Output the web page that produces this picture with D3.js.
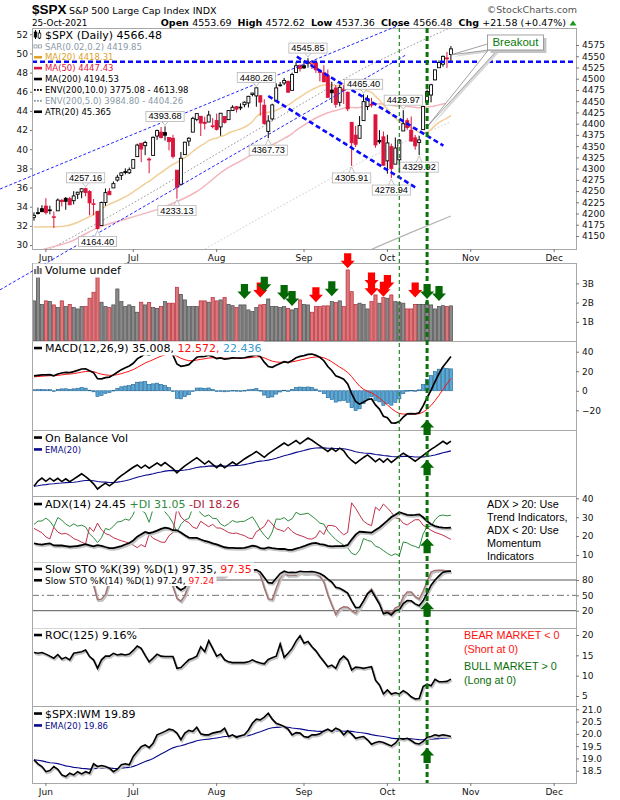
<!DOCTYPE html>
<html>
<head>
<meta charset="utf-8">
<style>
  body { margin: 0; background: #fff; }
  svg { font-family: "DejaVu Sans", Verdana, sans-serif; display: block; }
  text { white-space: pre; }
  .axis text { font-size: 9px; fill: #111; font-family: "DejaVu Sans", Verdana, sans-serif; }
  .axis line { stroke: #777; }
</style>
</head>
<body>
<svg width="620" height="800"></svg>
<script src="https://cdn.jsdelivr.net/npm/d3@7"></script>
<script>
// ---------------- data ----------------
var monthDays = [
  ["2021-05", [26, 27, 28]],
  ["2021-06", [1,2,3,4,7,8,9,10,11,14,15,16,17,18,21,22,23,24,25,28,29,30]],
  ["2021-07", [1,2,6,7,8,9,12,13,14,15,16,19,20,21,22,23,26,27,28,29,30]],
  ["2021-08", [2,3,4,5,6,9,10,11,12,13,16,17,18,19,20,23,24,25,26,27,30,31]],
  ["2021-09", [1,2,3,7,8,9,10,13,14,15,16,17,20,21,22,23,24,27,28,29,30]],
  ["2021-10", [1,4,5,6,7,8,11,12,13,14,15,18,19,20,21,22,25]]
];
var dates = monthDays.flatMap(function(m) { return m[1].map(function(d) { return m[0] + "-" + String(d).padStart(2, "0"); }); });

var opens = [
4191.59,4201.94,4210.77,4216.52,4206.82,4191.43,4206.05,4229.34,4233.81,4232.99,
4228.56,4242.90,4248.31,4255.28,4248.87,4220.37,4204.78,4173.40,4224.61,4249.27,
4256.97,4274.45,4284.90,4293.21,4290.65,4300.73,4326.60,4356.46,4351.01,4321.07,
4329.38,4372.41,4381.07,4380.11,4369.02,4367.43,4296.40,4265.11,4331.13,4361.27,
4381.20,4409.58,4416.38,4402.95,4403.59,4395.12,4406.86,4392.74,4415.95,4408.86,
4429.07,4437.77,4435.79,4442.18,4446.08,4464.84,4461.65,4462.12,4440.94,4382.44,
4410.56,4450.29,4484.40,4490.45,4493.75,4474.10,4513.76,4529.75,4528.80,4534.48,
4532.42,4535.38,4518.09,4513.02,4506.92,4474.81,4479.33,4447.49,4477.09,4469.74,
4402.95,4374.45,4367.43,4406.75,4438.04,4442.12,4419.54,4362.41,4370.67,4317.16,
4348.84,4309.87,4319.57,4383.73,4406.51,4385.44,4368.31,4358.01,4386.75,4447.69,
4463.72,4497.34,4524.42,4532.24,4546.12,4553.69];
var highs = [
4202.61,4213.38,4218.36,4234.12,4217.37,4204.39,4233.45,4232.34,4236.74,4237.09,
4249.74,4248.38,4255.59,4257.16,4251.89,4232.29,4204.78,4226.24,4255.84,4256.60,
4271.28,4286.12,4292.14,4300.52,4302.43,4320.66,4355.43,4356.46,4361.88,4324.81,
4371.60,4386.68,4392.37,4393.68,4369.02,4375.09,4296.40,4336.84,4359.70,4369.87,
4415.18,4422.73,4416.38,4415.47,4428.50,4412.25,4422.18,4423.79,4416.17,4429.76,
4440.82,4439.39,4445.21,4449.44,4461.77,4468.37,4480.26,4462.12,4454.32,4418.61,
4444.35,4489.88,4492.81,4501.71,4495.90,4513.33,4537.36,4531.39,4537.11,4545.85,
4541.45,4535.38,4521.79,4529.90,4520.47,4492.99,4485.68,4486.87,4485.87,4471.52,
4402.95,4394.87,4416.75,4465.40,4463.12,4457.30,4419.54,4385.57,4382.55,4375.19,
4355.51,4369.23,4365.57,4429.97,4412.02,4415.88,4374.89,4372.87,4439.73,4475.82,
4488.75,4520.40,4540.87,4551.44,4559.67,4572.62];
var lows = [
4184.11,4197.78,4203.57,4197.59,4198.27,4167.93,4206.05,4215.66,4208.41,4218.74,
4220.34,4232.25,4234.07,4238.35,4195.99,4196.05,4164.40,4173.40,4217.27,4241.43,
4256.97,4271.16,4274.67,4287.04,4287.96,4300.73,4326.60,4314.37,4329.79,4289.52,
4329.38,4364.03,4366.92,4362.36,4340.70,4322.53,4233.13,4262.05,4331.13,4350.06,
4381.20,4405.45,4372.51,4387.01,4403.59,4389.65,4384.81,4373.00,4400.23,4408.86,
4429.07,4424.74,4430.03,4436.42,4435.96,4460.82,4437.66,4417.83,4397.59,4367.73,
4406.80,4450.29,4482.28,4485.66,4468.99,4474.10,4513.76,4515.80,4522.02,4524.66,
4521.65,4513.00,4493.95,4492.07,4457.66,4445.70,4435.46,4438.37,4443.80,4427.76,
4305.91,4347.96,4367.43,4406.75,4430.27,4436.19,4346.33,4355.08,4306.24,4288.52,
4278.94,4309.87,4290.49,4383.73,4386.22,4360.59,4342.09,4329.92,4386.75,4447.69,
4447.47,4496.41,4524.40,4526.89,4524.00,4537.36];
var closes = [
4195.99,4200.88,4204.11,4202.04,4208.12,4192.85,4229.89,4226.52,4227.26,4219.55,
4239.18,4247.44,4255.15,4246.59,4223.70,4221.86,4166.45,4224.79,4246.44,4241.84,
4266.49,4280.70,4290.61,4291.80,4297.50,4319.94,4352.34,4343.54,4358.13,4320.82,
4369.55,4384.63,4369.21,4374.30,4360.03,4327.16,4258.49,4323.06,4358.69,4367.48,
4411.79,4422.30,4401.46,4400.64,4419.15,4395.26,4387.16,4423.15,4402.66,4429.10,
4436.52,4432.35,4436.75,4447.70,4460.83,4468.00,4479.71,4448.08,4400.27,4405.80,
4441.67,4479.53,4486.23,4496.19,4470.00,4509.37,4528.79,4522.68,4524.09,4536.95,
4535.43,4520.03,4514.07,4493.28,4458.58,4468.73,4443.05,4480.70,4473.75,4432.99,
4357.73,4354.19,4395.64,4448.98,4455.48,4443.11,4352.63,4359.46,4307.54,4357.04,
4300.46,4345.72,4363.55,4399.76,4391.34,4361.19,4350.65,4363.80,4438.26,4471.37,
4486.46,4519.63,4536.19,4549.78,4544.90,4566.48];
// volume in billions
var volumes = [
2.09,3.36,1.91,2.09,2.05,1.88,1.74,2.09,1.79,1.91,
1.74,1.67,1.79,1.79,2.23,2.54,3.36,2.02,1.79,1.74,
1.88,2.71,2.05,1.79,1.88,1.79,1.50,2.02,1.88,2.00,
1.74,1.70,1.79,2.05,1.97,1.97,2.80,2.43,2.14,1.79,
1.79,1.79,2.09,2.09,2.02,2.26,2.09,2.14,2.26,1.91,
1.84,1.74,1.88,1.88,1.62,1.53,1.74,1.88,1.91,2.19,
1.79,1.79,1.74,1.79,1.70,1.62,1.70,2.14,1.91,1.88,
1.50,1.79,1.79,1.83,1.83,2.05,2.00,2.09,1.79,3.70,
2.57,1.91,1.97,1.91,1.67,2.05,2.40,1.97,2.26,2.23,
2.40,2.05,2.02,1.97,1.67,1.67,1.91,1.91,1.91,2.02,
1.88,1.67,1.79,1.84,1.79,1.83];

// bars before the window (for the first close and the stochastic look-back)
var prevBar = {high: 4213.42, low: 4182.52, close: 4188.13};
var priorIdx  = [-38, -37, -13, -12, -10, -5, -1];
var priorHigh = [4020.63, 4083.42, 4238.04, 4236.39, 4134.99, 4116.93, 4213.42];
var priorLow  = [3992.78, 4034.44, 4201.64, 4188.13, 4056.88, 4061.41, 4182.52];

// overlays: [trading day index, value]
var ma20Early = [[0, 4170], [7, 4171], [14, 4193]];
var ma50Early = [[0, 4112], [2, 4119], [9, 4137], [16, 4168], [24, 4190], [32, 4212], [41, 4249]];
var ma200 = [[0, 3729], [7, 3759], [24, 3835], [41, 3915], [58, 3996], [70, 4052], [84, 4116], [95, 4158], [105, 4194.53]];

var roc125 = [
15.7,15.5,15.7,15.3,14.8,14.3,15.2,14.1,14.5,13.9,
15.5,15.7,15.9,16.3,14.7,13.9,11.8,13.9,14.8,14.8,
15.5,15.1,15.3,15.1,15.3,16.2,17.3,16.7,15.0,13.4,
14.3,15.3,14.8,14.7,14.7,14.7,11.8,12.0,13.0,13.9,
14.3,14.8,17.1,15.9,18.6,16.7,14.8,15.3,13.9,13.4,
13.2,13.2,13.2,13.2,13.4,13.9,13.4,13.1,12.9,14.0,
14.4,14.8,17.8,14.5,15.5,16.7,18.5,19.8,18.0,18.4,
17.1,16.1,14.7,13.5,12.2,12.6,11.8,13.9,14.8,13.9,
11.4,12.1,12.0,11.8,12.0,12.2,8.9,7.7,5.5,6.5,
5.5,5.8,5.5,6.3,5.7,4.8,4.3,4.4,7.3,7.9,
7.5,9.1,8.5,8.5,8.6,9.16];
var spxIwm = [
18.94,18.78,18.67,18.46,18.51,18.67,18.56,18.33,18.26,18.40,
18.33,18.46,18.37,18.46,18.40,18.78,18.67,18.71,18.67,18.60,
18.46,18.56,18.74,18.78,18.74,19.08,19.28,19.48,19.55,19.44,
19.62,19.96,20.03,20.10,20.19,20.16,20.03,19.76,20.03,20.14,
20.10,20.27,20.00,19.96,19.96,20.03,20.07,20.10,20.23,19.89,
19.96,19.86,19.92,19.96,20.16,20.43,20.60,20.57,20.68,20.84,
20.60,20.43,20.37,20.30,20.19,19.96,20.05,20.03,19.89,19.86,
19.96,19.96,20.00,20.12,20.19,20.10,20.23,20.16,19.96,20.12,
20.00,19.82,19.86,19.89,19.76,19.58,19.65,19.69,19.65,19.58,
19.51,19.62,19.82,19.78,19.82,19.73,19.62,19.59,19.69,19.86,
19.89,19.96,19.92,19.96,19.93,19.89];

var macdSeed = {ema12: 4178, ema26: 4163, signal: 14};
var adxSeed = {atr: 26, pdi: 26.2, mdi: 24.1, adx: 16.2};
var ratioEmaSeed = 18.94;

var monthLabels = ["Jun", "Jul", "Aug", "Sep", "Oct", "Nov", "Dec"];
var monthStart = [3, 25, 46, 68, 89, 110, 131];

var legendValues = {sar: "4419.85", atr: "45.365", macd: "35.008", signal: "12.572", hist: "22.436",
  adx: "24.45", pdi: "31.05", mdi: "18.26", k39: "97.35", k14: "97.24", ratioEma: "19.86"};

var hiLoLabels = [[13, "high"], [16, "low"], [33, "high"], [36, "low"], [56, "high"], [59, "low"],
  [69, "high"], [80, "low"], [83, "high"], [90, "low"], [93, "high"], [97, "low"]];

// drawn trendlines: [[day, price], [day, price]]
var thinTrends = [[[-8.54, 4254.6], [92.2, 4620]], [[-8.54, 4030.3], [93.5, 4552.1]]];
var thickTrends = [[[66.2, 4549], [103.1, 4351]], [[59.0, 4461.5], [96.0, 4258.4]]];
var resistance = 4537.8;
var signalDay = 99, markDay = 92;

// volume pane arrows: [day, colour, tip level in B]
var volArrows = [[53,"g",2.19],[57,"r",2.26],[58,"g",2.57],[63,"g",2.14],[65,"g",1.82],[71,"r",2.02],
  [75,"g",2.33],[79,"r",3.79],[85,"r",2.36],[85,"r",2.78],[88,"r",2.31],[89,"r",2.66],[96,"r",2.26],
  [99,"g",2.19],[102,"g",2.08]];
var breakout = {text: "Breakout", box: [114.2, 128.3, 4597.3, 4563.9], tips: [[105, 4553], [99, 4393]]};

// ---------------- indicators ----------------
var last = closes.length - 1;
var days = d3.range(closes.length);
function ema(values, n, seed) {
  var k = 2 / (n + 1), e = seed;
  return values.map(function(v) { e += k * (v - e); return e; });
}
function prevClose(i) { return i === 0 ? prevBar.close : closes[i - 1]; }

var ema12 = ema(closes, 12, macdSeed.ema12), ema26 = ema(closes, 26, macdSeed.ema26);
var macd = days.map(function(i) { return ema12[i] - ema26[i]; });
var signal = ema(macd, 9, macdSeed.signal);
var hist = days.map(function(i) { return macd[i] - signal[i]; });

var obv = [];
days.forEach(function(i) { obv.push((i ? obv[i - 1] : 0) + Math.sign(closes[i] - prevClose(i)) * volumes[i]); });
var obvEma = ema(obv, 20, obv[0]);

var pdi = [], mdi = [], adx = [];
(function() {
  var sTR = adxSeed.atr * 14, sP = sTR * adxSeed.pdi / 100, sM = sTR * adxSeed.mdi / 100, a = adxSeed.adx;
  days.forEach(function(i) {
    if (i > 0) {
      var h = highs[i], l = lows[i], pc = closes[i - 1];
      var tr = Math.max(h - l, Math.abs(h - pc), Math.abs(l - pc));
      var up = h - highs[i - 1], dn = lows[i - 1] - l;
      var pdm = up > dn && up > 0 ? up : 0, mdm = dn > up && dn > 0 ? dn : 0;
      sTR += tr - sTR / 14; sP += pdm - sP / 14; sM += mdm - sM / 14;
      var p = 100 * sP / sTR, m = 100 * sM / sTR;
      a = (a * 13 + 100 * Math.abs(p - m) / (p + m)) / 14;
    }
    pdi.push(100 * sP / sTR); mdi.push(100 * sM / sTR); adx.push(a);
  });
})();

function slowK(n) {
  var fast = days.map(function(i) {
    var hh = -Infinity, ll = Infinity;
    for (var j = Math.max(0, i - n + 1); j <= i; j++) { hh = Math.max(hh, highs[j]); ll = Math.min(ll, lows[j]); }
    priorIdx.forEach(function(pj, k) { if (pj >= i - n + 1) { hh = Math.max(hh, priorHigh[k]); ll = Math.min(ll, priorLow[k]); } });
    return 100 * (closes[i] - ll) / (hh - ll);
  });
  return fast.map(function(_, i) { return d3.mean(fast.slice(Math.max(0, i - 2), i + 1)); });
}
var k39 = slowK(39), k14 = slowK(14);
var ratioEma = ema(spxIwm, 20, ratioEmaSeed);

var ma20 = ma20Early.concat(d3.range(19, closes.length).map(function(i) { return [i, d3.mean(closes.slice(i - 19, i + 1))]; }));
var ma50 = ma50Early.concat(d3.range(49, closes.length).map(function(i) { return [i, d3.mean(closes.slice(i - 49, i + 1))]; }));
var env10 = ma200.map(function(d) { return [d[0], d[1] * 1.1]; });
var env5 = ma200.map(function(d) { return [d[0], d[1] * 1.05]; });
var env10lo = ma200.map(function(d) { return [d[0], d[1] * 0.9]; });
var env5lo = ma200.map(function(d) { return [d[0], d[1] * 0.95]; });

// ---------------- layout ----------------
var svg = d3.select("svg");
var L = 32, R = 576;
var x = d3.scaleLinear().domain([-0.5, 136.5]).range([L, R]);
var defs = svg.append("defs");
var layer = {
  panes: svg.append("g"),
  frames: svg.append("g"),
  notes: svg.append("g"),
  legends: svg.append("g"),
  verticals: svg.append("g"),
  arrows: svg.append("g")
};

function pane(name, top, bottom) {
  defs.append("clipPath").attr("id", "clip-" + name)
    .append("rect").attr("x", L).attr("y", top).attr("width", R - L).attr("height", bottom - top);
  layer.frames.append("rect").attr("x", L + 0.5).attr("y", top + 0.5).attr("width", R - L).attr("height", bottom - top)
    .attr("fill", "none").attr("stroke", "#a8a8a8");
  return layer.panes.append("g").attr("clip-path", "url(#clip-" + name + ")");
}

var yP = d3.scaleLinear().domain([4150, 4575]).range([236, 45]);
var yAtr = d3.scaleLinear().domain([30, 52]).range([245, 34.3]);
var yV = d3.scaleLinear().domain([0, 3]).range([341, 283.4]);
var yM = d3.scaleLinear().domain([-20, 40]).range([410.3, 351.7]);
var yO = d3.scaleLinear().domain(d3.extent(obv.concat(obvEma))).range([489, 438]);
var yA = d3.scaleLinear().domain([10, 40]).range([555, 498.3]);
var yS = d3.scaleLinear().domain([20, 80]).range([610.7, 580]);
var yR = d3.scaleLinear().domain([5, 20]).range([696, 635]);
var yQ = d3.scaleLinear().domain([18.5, 21]).range([770.7, 709.3]);

var pPrice = pane("price", 28, 249);
var pVol = pane("vol", 263, 341);
var pMacd = pane("macd", 341, 430);
var pObv = pane("obv", 430, 496);
var pAdx = pane("adx", 496, 562);
var pSto = pane("sto", 562, 628);
var pRoc = pane("roc", 628, 706);
var pRatio = pane("ratio", 706, 783);

function rightAxis(scale, ticks, fmt) {
  var g = layer.frames.append("g").attr("class", "axis").attr("transform", "translate(" + R + ",0)")
    .call(d3.axisRight(scale).tickValues(ticks).tickSize(3).tickPadding(3).tickFormat(fmt));
  g.select(".domain").remove();
}
rightAxis(yP, d3.range(4150, 4576, 25), d3.format("d"));
rightAxis(yV, [1, 2, 3], function(d) { return d + "B"; });
rightAxis(yM, [-20, 0, 20, 40], d3.format("d"));
rightAxis(yA, [10, 20, 30, 40], d3.format("d"));
rightAxis(yS, [20, 50, 80], d3.format("d"));
rightAxis(yR, [5, 10, 15, 20], d3.format("d"));
rightAxis(yQ, [18.5, 19, 19.5, 20, 20.5, 21], d3.format(".1f"));
(function() {
  var g = layer.frames.append("g").attr("class", "axis").attr("transform", "translate(" + L + ",0)")
    .call(d3.axisLeft(yAtr).tickValues(d3.range(30, 53, 2)).tickSize(2).tickPadding(2));
  g.select(".domain").remove();
})();

function monthAxis(yTop, yText) {
  var g = layer.frames.append("g").attr("class", "axis");
  monthStart.forEach(function(m, k) {
    g.append("line").attr("x1", x(m)).attr("x2", x(m)).attr("y1", yTop).attr("y2", yTop + 3);
    g.append("text").attr("x", x(m)).attr("y", yText).attr("text-anchor", "middle").text(monthLabels[k]);
  });
}
monthAxis(249, 261);
monthAxis(783, 795);

// ---------------- header ----------------
svg.append("text").attr("x", 32).attr("y", 14).attr("font-family", "'Liberation Sans', Arial, sans-serif")
  .attr("font-weight", "bold").attr("font-size", 13.5).text("$SPX");
svg.append("text").attr("x", 69).attr("y", 14).attr("font-size", 9.5).text("S&P 500 Large Cap Index INDX");
svg.append("text").attr("x", 32).attr("y", 25.5).attr("font-size", 8.8).text("25-Oct-2021");
svg.append("text").attr("x", 577).attr("y", 12.5).attr("text-anchor", "end").attr("font-size", 9.5)
  .attr("fill", "#555").text("\u00a9StockCharts.com");
(function() {
  var chg = closes[last] - closes[last - 1];
  var parts = [["Open ", 1], [opens[last].toFixed(2) + "  ", 0], ["High ", 1], [highs[last].toFixed(2) + "  ", 0],
    ["Low ", 1], [lows[last].toFixed(2) + "  ", 0], ["Close ", 1], [closes[last].toFixed(2) + "  ", 0],
    ["Chg ", 1], ["+" + chg.toFixed(2) + " (+" + (chg / closes[last - 1] * 100).toFixed(2) + "%)", 0]];
  var t = svg.append("text").attr("x", 566).attr("y", 25.5).attr("text-anchor", "end").attr("font-size", 9.5);
  parts.forEach(function(p) { t.append("tspan").attr("font-weight", p[1] ? "bold" : "normal").text(p[0]); });
  svg.append("path").attr("d", "M569.5,25.5 L576.5,25.5 L573,20.5 Z").attr("fill", "#1a9a1a");
})();

// ---------------- price pane ----------------
function lineOf(sx, sy, curve) {
  var l = d3.line().x(function(d) { return sx(d[0]); }).y(function(d) { return sy(d[1]); });
  return curve ? l.curve(curve) : l;
}
function series(arr) { return arr.map(function(v, i) { return [i, v]; }); }

[[env10lo, "#999"], [env5lo, "#ccc"], [env10, "#9a9a9a"], [env5, "#cfcfcf"]].forEach(function(e) {
  pPrice.append("path").attr("d", lineOf(x, yP, d3.curveMonotoneX)(e[0])).attr("fill", "none")
    .attr("stroke", e[1]).attr("stroke-width", 1).attr("stroke-dasharray", "1.6,2");
});
pPrice.append("path").attr("d", lineOf(x, yP, d3.curveMonotoneX)(ma200)).attr("fill", "none").attr("stroke", "#b4b4b4").attr("stroke-width", 1.2);
pPrice.append("path").attr("d", lineOf(x, yP, d3.curveMonotoneX)(ma50)).attr("fill", "none").attr("stroke", "#f2b6bc").attr("stroke-width", 1.5);
pPrice.append("path").attr("d", lineOf(x, yP, d3.curveMonotoneX)(ma20)).attr("fill", "none").attr("stroke", "#f1cf98").attr("stroke-width", 1.5);

var RED = "#dc143c";
days.forEach(function(i) {
  var col = closes[i] >= prevClose(i) ? "#000" : RED;
  var hollow = closes[i] >= opens[i];
  var cx = x(i);
  pPrice.append("line").attr("x1", cx).attr("x2", cx).attr("y1", yP(highs[i])).attr("y2", yP(lows[i]))
    .attr("stroke", col).attr("stroke-width", 1);
  var top = yP(Math.max(opens[i], closes[i])), bot = yP(Math.min(opens[i], closes[i]));
  pPrice.append("rect").attr("x", cx - 1.5).attr("y", top).attr("width", 3).attr("height", Math.max(0.8, bot - top))
    .attr("fill", hollow ? "#fff" : col).attr("stroke", col).attr("stroke-width", 0.9);
});

// trendlines
thinTrends.forEach(function(t) {
  layer.notes.append("line").attr("x1", x(t[0][0])).attr("y1", yP(t[0][1])).attr("x2", x(t[1][0])).attr("y2", yP(t[1][1]))
    .attr("stroke", "#2626ff").attr("stroke-width", 1).attr("stroke-dasharray", "3,2");
});
thickTrends.forEach(function(t) {
  layer.notes.append("line").attr("x1", x(t[0][0])).attr("y1", yP(t[0][1])).attr("x2", x(t[1][0])).attr("y2", yP(t[1][1]))
    .attr("stroke", "#0a0aff").attr("stroke-width", 2.6).attr("stroke-dasharray", "5,3");
});
pPrice.append("line").attr("x1", L).attr("x2", R).attr("y1", yP(resistance)).attr("y2", yP(resistance))
  .attr("stroke", "#0a0aff").attr("stroke-width", 2.6).attr("stroke-dasharray", "5,3");

// high / low labels
hiLoLabels.forEach(function(lb) {
  var i = lb[0], isHigh = lb[1] === "high";
  var price = isHigh ? highs[i] : lows[i];
  var cx = x(i), py = yP(price), h = 10;
  var g = layer.notes.append("g");
  var t = g.append("text").attr("font-family", "'Liberation Sans', Arial, sans-serif").attr("font-size", 9.2)
    .attr("text-anchor", "middle").text(price.toFixed(2));
  var w = t.node().getComputedTextLength() + 5;
  var by = isHigh ? py - 5 - h : py + 7;
  var edge = isHigh ? by + h : by;
  g.insert("path", "text").attr("d", "M" + (cx - 3) + "," + edge + " L" + cx + "," + (isHigh ? py - 1 : py + 1) + " L" + (cx + 3) + "," + edge)
    .attr("fill", "#fff").attr("stroke", "#b5b5b5").attr("stroke-width", 0.8);
  g.insert("rect", "text").attr("x", cx - w / 2).attr("y", by).attr("width", w).attr("height", h)
    .attr("fill", "#fff").attr("stroke", "#b5b5b5").attr("stroke-width", 0.8);
  t.attr("x", cx).attr("y", by + h - 2);
});

// breakout callout
(function() {
  var bx0 = x(breakout.box[0]), bx1 = x(breakout.box[1]), by0 = yP(breakout.box[2]), by1 = yP(breakout.box[3]);
  var g = layer.notes.append("g");
  var t1 = [x(breakout.tips[0][0]), yP(breakout.tips[0][1])], t2 = [x(breakout.tips[1][0]), yP(breakout.tips[1][1])];
  var wedges = [[[bx0, by1 - 6], [bx0 + 2, by1], t1], [[bx0 + 1, by1], [bx0 + 10, by1], t2]];
  wedges.forEach(function(w) {
    g.append("polygon").attr("points", w.map(function(p) { return (p[0] + 2) + "," + (p[1] + 2); }).join(" ")).attr("fill", "#d8d8d8");
  });
  wedges.forEach(function(w) {
    g.append("polygon").attr("points", w.map(function(p) { return p.join(","); }).join(" "))
      .attr("fill", "#fff").attr("stroke", "#8a8a8a").attr("stroke-width", 0.8);
  });
  g.append("rect").attr("x", bx0 + 3).attr("y", by0 + 3).attr("width", bx1 - bx0).attr("height", by1 - by0).attr("fill", "#c4c4c4");
  g.append("rect").attr("x", bx0).attr("y", by0).attr("width", bx1 - bx0).attr("height", by1 - by0)
    .attr("fill", "#fff").attr("stroke", "#8a8a8a").attr("stroke-width", 0.8);
  g.append("text").attr("x", (bx0 + bx1) / 2).attr("y", by1 - 4).attr("text-anchor", "middle")
    .attr("font-family", "'Liberation Sans', Arial, sans-serif").attr("font-size", 11.5).attr("fill", "#0a7a0a").text(breakout.text);
})();

// ---------------- volume ----------------
days.forEach(function(i) {
  var up = closes[i] >= prevClose(i);
  pVol.append("rect").attr("x", x(i) - 1.6).attr("width", 3.2).attr("y", yV(volumes[i])).attr("height", yV(0) - yV(volumes[i]))
    .attr("fill", up ? "#8a8a8a" : "#dc7878").attr("stroke", up ? "#4a4a4a" : "#b8283c").attr("stroke-width", 0.7);
});

// ---------------- MACD ----------------
days.forEach(function(i) {
  var y0 = yM(0), y1 = yM(hist[i]);
  pMacd.append("rect").attr("x", x(i) - 1.6).attr("width", 3.2).attr("y", Math.min(y0, y1)).attr("height", Math.max(0.6, Math.abs(y1 - y0)))
    .attr("fill", "#5aa8d8").attr("stroke", "#1f628f").attr("stroke-width", 0.6);
});
pMacd.append("path").attr("d", lineOf(x, yM)(series(signal))).attr("fill", "none").attr("stroke", "#ff1010").attr("stroke-width", 1);
pMacd.append("path").attr("d", lineOf(x, yM)(series(macd))).attr("fill", "none").attr("stroke", "#000").attr("stroke-width", 1.7);

function shadowLine(g, d, color, width) {
  g.append("path").attr("d", d).attr("transform", "translate(1,1.5)").attr("fill", "none").attr("stroke", "#c4c4c4").attr("stroke-width", width + 0.6);
  g.append("path").attr("d", d).attr("fill", "none").attr("stroke", color).attr("stroke-width", width);
}

// ---------------- OBV ----------------
pObv.append("path").attr("d", lineOf(x, yO)(series(obvEma))).attr("fill", "none").attr("stroke", "#0a0a8c").attr("stroke-width", 1.1);
pObv.append("path").attr("d", lineOf(x, yO)(series(obv))).attr("fill", "none").attr("stroke", "#000").attr("stroke-width", 1.6);

// ---------------- ADX ----------------
pAdx.append("path").attr("d", lineOf(x, yA)(series(pdi))).attr("fill", "none").attr("stroke", "#2e8b3e").attr("stroke-width", 1);
pAdx.append("path").attr("d", lineOf(x, yA)(series(mdi))).attr("fill", "none").attr("stroke", "#c0304a").attr("stroke-width", 1);
shadowLine(pAdx, lineOf(x, yA)(series(adx)), "#000", 1.8);

// ---------------- STO ----------------
[[80, "none"], [20, "none"], [50, "7,3,2,3"]].forEach(function(h) {
  pSto.append("line").attr("x1", L).attr("x2", R).attr("y1", yS(h[0])).attr("y2", yS(h[0]))
    .attr("stroke", h[1] === "none" ? "#555" : "#777").attr("stroke-width", 1).attr("stroke-dasharray", h[1]);
});
shadowLine(pSto, lineOf(x, yS)(series(k14)), "#a37272", 1.5);
shadowLine(pSto, lineOf(x, yS)(series(k39)), "#000", 1.6);

// ---------------- ROC / ratio ----------------
shadowLine(pRoc, lineOf(x, yR)(series(roc125)), "#000", 1.6);
pRatio.append("path").attr("d", lineOf(x, yQ)(series(ratioEma))).attr("fill", "none").attr("stroke", "#0a0a8c").attr("stroke-width", 1.1);
shadowLine(pRatio, lineOf(x, yQ)(series(spxIwm)), "#000", 1.6);

// ---------------- legends ----------------
function icon(g, type, color, cy) {
  if (type === "line") g.append("rect").attr("x", 34).attr("y", cy - 1.3).attr("width", 8).attr("height", 2.6).attr("fill", color);
  else if (type === "dots") [34, 37, 40].forEach(function(px) { g.append("rect").attr("x", px).attr("y", cy - 0.9).attr("width", 1.8).attr("height", 1.8).attr("fill", color); });
  else if (type === "sar") [34, 38.5].forEach(function(px) { g.append("rect").attr("x", px).attr("y", cy - 1.5).attr("width", 3).attr("height", 3).attr("fill", "none").attr("stroke", color).attr("stroke-width", 0.8); });
  else if (type === "candle") {
    [[35.5, -3], [39.5, -2]].forEach(function(c, k) {
      g.append("line").attr("x1", c[0]).attr("x2", c[0]).attr("y1", cy - 5).attr("y2", cy + 4).attr("stroke", "#000");
      g.append("rect").attr("x", c[0] - 1.3).attr("y", cy + c[1]).attr("width", 2.6).attr("height", 5).attr("fill", k ? "#fff" : "#000").attr("stroke", "#000").attr("stroke-width", 0.7);
    });
  } else if (type === "bars") [[34, 5], [36.8, 8], [39.6, 6]].forEach(function(b) {
    g.append("rect").attr("x", b[0]).attr("y", cy + 4 - b[1]).attr("width", 2.2).attr("height", b[1]).attr("fill", "#777");
  });
}
function legend(y, parts, opt) {
  opt = opt || {};
  var size = opt.size || 11;
  var g = layer.legends.append("g");
  var t = g.append("text").attr("x", 45).attr("y", y).attr("font-size", size);
  parts.forEach(function(p) { t.append("tspan").attr("fill", p[1]).text(p[0]); });
  if (opt.bg) {
    var b = t.node().getBBox();
    g.insert("rect", "text").attr("x", L + 1).attr("y", b.y - 0.5).attr("width", b.x + b.width - L + 1).attr("height", b.height + 1).attr("fill", "#fff");
  }
  icon(g, opt.icon || "line", opt.iconColor || parts[0][1], y - size * 0.36);
}

var m200 = ma200[ma200.length - 1][1];
legend(39, [["$SPX (Daily) " + closes[last].toFixed(2), "#000"]], {icon: "candle"});
legend(49.5, [["SAR(0.02,0.2) " + legendValues.sar, "#8a9aa8"]], {size: 8.5, icon: "sar"});
legend(60.3, [["MA(20) " + ma20[ma20.length - 1][1].toFixed(2), "#dea22c"]], {size: 8.5});
legend(71.2, [["MA(50) " + ma50[ma50.length - 1][1].toFixed(2), RED]], {size: 8.5});
legend(82.1, [["MA(200) " + m200.toFixed(2), "#000"]], {size: 8.5});
legend(93, [["ENV(200,10.0) " + (m200 * 0.9).toFixed(2) + " - " + (m200 * 1.1).toFixed(2), "#000"]], {size: 8.5, icon: "dots"});
legend(103.9, [["ENV(200,5.0) " + (m200 * 0.95).toFixed(2) + " - " + (m200 * 1.05).toFixed(2), "#8a9aa8"]], {size: 8.5, icon: "dots"});
legend(114.8, [["ATR(20) " + legendValues.atr, "#000"]], {size: 8.5});

legend(274, [["Volume undef", "#000"]], {icon: "bars", bg: true});
legend(352, [["MACD(12,26,9) " + legendValues.macd + ",", "#000"], [" " + legendValues.signal + ",", "#ff1010"], [" " + legendValues.hist, "#3a9ad0"]], {bg: true});
legend(441.5, [["On Balance Vol", "#000"]], {bg: true});
legend(452.5, [["EMA(20)", "#0a0a8c"]], {size: 8.5, bg: true});
legend(508, [["ADX(14) " + legendValues.adx + " ", "#000"], ["+DI " + legendValues.pdi + " ", "#2e8b3e"], ["-DI " + legendValues.mdi, "#b0203e"]], {bg: true});
legend(573, [["Slow STO %K(39) %D(1) " + legendValues.k39 + ", ", "#000"], [legendValues.k39, "#ff1010"]], {bg: true});
legend(583.5, [["Slow STO %K(14) %D(1) " + legendValues.k14 + ", ", "#000"], [legendValues.k14, "#ff1010"]], {size: 9, bg: true});
legend(639, [["ROC(125) " + roc125[last].toFixed(2) + "%", "#000"]], {bg: true});
legend(717.5, [["$SPX:IWM " + spxIwm[last].toFixed(2), "#000"]], {bg: true});
legend(728.5, [["EMA(20) " + legendValues.ratioEma, "#0a0a8c"]], {size: 8.5, bg: true});

function note(xp, y, lines, color) {
  lines.forEach(function(s, k) {
    layer.legends.append("text").attr("x", xp).attr("y", y[k]).attr("font-family", "'Liberation Sans', Arial, sans-serif")
      .attr("font-size", 10.8).attr("fill", color[k]).text(s);
  });
}
note(487, [508, 521, 534, 547, 560], ["ADX > 20: Use", "Trend Indicators,", "ADX < 20: Use", "Momentum", "Indicators"],
  ["#000", "#000", "#000", "#000", "#000"]);
note(464, [639, 652.5, 670, 683.5], ["BEAR MARKET < 0", "(Short at 0)", "BULL MARKET > 0", "(Long at 0)"],
  ["#ff1010", "#ff1010", "#0a6e0a", "#0a6e0a"]);

// ---------------- vertical markers and arrows ----------------
layer.verticals.append("line").attr("x1", x(markDay)).attr("x2", x(markDay)).attr("y1", 28).attr("y2", 783)
  .attr("stroke", "#167a16").attr("stroke-width", 1.1).attr("stroke-dasharray", "4,3");
layer.verticals.append("line").attr("x1", x(signalDay)).attr("x2", x(signalDay)).attr("y1", 28).attr("y2", 783)
  .attr("stroke", "#0b720b").attr("stroke-width", 3).attr("stroke-dasharray", "5,3");

function blockArrow(cx, tip, dir, fill) {
  var s = dir === "down" ? -1 : 1;
  var pts = [[-3.6, 15], [3.6, 15], [3.6, 7.5], [7, 7.5], [0, 0], [-7, 7.5], [-3.6, 7.5]].map(function(p) {
    return (cx + p[0]) + "," + (tip + s * p[1]);
  });
  layer.arrows.append("polygon").attr("points", pts.join(" ")).attr("fill", fill);
}
var GREEN = "#046804", ARED = "#ff0000";
volArrows.forEach(function(a) { blockArrow(x(a[0]), yV(a[2]), "down", a[1] === "g" ? GREEN : ARED); });
blockArrow(x(signalDay), yM(-29.9), "up", GREEN);
blockArrow(x(signalDay), yO(obv[signalDay]) + 8, "up", GREEN);
blockArrow(x(signalDay), yA(18.8), "up", GREEN);
blockArrow(x(signalDay), yS(37.5), "up", GREEN);
blockArrow(x(signalDay), yQ(19.42), "up", GREEN);
</script>
</body>
</html>
